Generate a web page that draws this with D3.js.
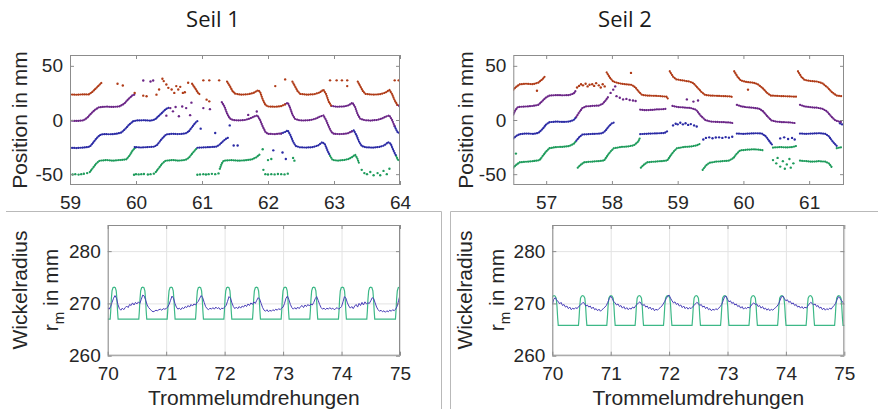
<!DOCTYPE html>
<html>
<head>
<meta charset="utf-8">
<script src="https://cdn.jsdelivr.net/npm/d3@7"></script>
<style>
  body { margin: 0; background: #fff; }
  svg { display: block; }
</style>
</head>
<body>
<svg id="chart" width="878" height="409"></svg>
<script>
// ---------- titles / labels ----------
const panelTitles = ["Seil 1", "Seil 2"];
const topYLabel = "Position in mm";
const bottomXLabel = "Trommelumdrehungen";

// ---------- top panels: ticks ----------
const seil1PosTicks = [59, 60, 61, 62, 63, 64];
const seil2PosTicks = [57, 58, 59, 60, 61];
const posYTicks = [-50, 0, 50];

// ---------- Seil 1, position tracks (segments of [rev, mm]) ----------
const s1Red = [
  [[59.0,23.6],[59.1,23.3],[59.2,23.7],[59.28,23.5],[59.33,25.5],[59.38,28.5],[59.43,31.5],[59.48,34.5]],
  [[60.85,33.5],[60.9,29],[60.94,25],[60.97,23.5]],
  [[61.38,35.5],[61.42,31.5],[61.46,27],[61.5,24.3],[61.6,23.4],[61.7,23.8],[61.78,25],[61.85,27.5],[61.88,26],[61.92,19],[61.96,14],[62.0,12.5],[62.1,12.2],[62.2,12.8],[62.26,14.5]],
  [[62.37,35.5],[62.41,31],[62.45,26.5],[62.49,24],[62.6,23.4],[62.7,23.8],[62.78,25.3],[62.84,28],[62.88,24],[62.92,17],[62.96,13]],
  [[63.36,35.5],[63.4,31],[63.44,26.5],[63.48,24],[63.6,23.4],[63.7,23.8],[63.78,25.3],[63.84,27.8],[63.88,24],[63.92,18],[63.96,14]]
];
const s1RedDots = [[59.72,33.4],[59.8,31.9],[59.98,25],[60.11,22.5],[60.16,21.9],[60.31,23.4],[60.35,28.1],[60.4,38.1],[60.42,35.9],[60.46,32.8],[60.49,29.7],[60.54,28.1],[60.58,25],[60.61,31.3],[60.64,28.1],[60.67,30.6],[60.71,25],[60.74,25.6],[60.79,34.4],[61.07,18.8],[61.11,17.2],[61.02,36.6],[61.11,36.6],[61.26,36.6],[62.11,31.3],[62.26,37.5],[62.94,36.6],[63.04,36.6],[63.12,36.6],[63.2,36.6],[63.2,31.3],[63.92,36.6],[63.98,36.6]];

const s1Purple = [
  [[59.0,-0.6],[59.1,-0.9],[59.2,-0.4],[59.26,2],[59.32,6],[59.38,9.5],[59.44,11.8],[59.55,12.3],[59.65,12],[59.75,12.6],[59.82,15],[59.88,19],[59.94,22.5],[59.98,23.5]],
  [[61.3,16.5],[61.34,12.5],[61.38,6],[61.42,1.5],[61.47,0],[61.55,-0.4],[61.65,0],[61.72,1.2],[61.8,3.5],[61.84,4.2],[61.88,0],[61.92,-6],[61.96,-11],[62.0,-12.8],[62.1,-13],[62.2,-12.5]],
  [[62.26,14.5],[62.3,16],[62.33,12],[62.37,5],[62.41,1],[62.47,-0.2],[62.55,-0.5],[62.65,0],[62.72,1.2],[62.8,3.5],[62.84,4.2],[62.88,0],[62.92,-6],[62.96,-11],[63.0,-12.8],[63.1,-13],[63.2,-12.5],[63.27,-10.5]],
  [[62.96,13],[63.05,12.2],[63.15,12.5],[63.22,13.5],[63.28,16],[63.32,12],[63.36,5],[63.4,1],[63.47,-0.2],[63.55,-0.5],[63.65,0],[63.72,1.2],[63.8,3.5],[63.84,4.2],[63.88,0],[63.92,-6]],
  [[63.96,14],[64.0,12.5]]
];
const s1PurpleDots = [[60.11,36.5],[60.22,35.5],[60.26,36.5],[60.46,4],[60.52,11],[60.56,8],[60.6,12],[60.65,3.5],[60.7,12.5],[60.76,11],[60.82,4.5],[60.84,16],[61.02,11],[61.12,10],[61.7,4.7],[61.83,7.8]];

const s1Blue = [
  [[59.0,-25.6],[59.1,-25.9],[59.2,-25.4],[59.3,-24.6],[59.35,-21],[59.4,-17],[59.45,-14],[59.5,-13],[59.6,-13.2],[59.7,-12.8],[59.78,-11.5],[59.84,-8],[59.9,-4],[59.96,-1],[60.02,-0.4],[60.12,-0.2],[60.22,-0.6],[60.29,0.5],[60.34,3.5],[60.4,7],[60.45,10],[60.5,11.5]],
  [[59.98,-25],[60.08,-25.4],[60.18,-25],[60.27,-24.7],[60.32,-23],[60.37,-19],[60.42,-15.5],[60.46,-13.2],[60.55,-12.8],[60.65,-13],[60.75,-12.4],[60.8,-10.5],[60.85,-6.5],[60.9,-2.5],[60.95,0]],
  [[60.93,-25.6],[61.03,-25.3],[61.13,-25],[61.22,-24.6],[61.27,-22.5],[61.32,-19.5],[61.37,-17],[61.41,-16]],
  [[62.2,-12.5],[62.26,-11],[62.3,-9.5],[62.34,-14],[62.38,-20],[62.42,-24],[62.48,-25.2],[62.58,-25.5],[62.68,-25],[62.76,-23.5],[62.82,-20.5],[62.86,-22],[62.9,-28],[62.94,-33]],
  [[63.27,-10.5],[63.3,-9.5],[63.34,-14],[63.38,-20],[63.42,-24],[63.48,-25.2],[63.58,-25.5],[63.68,-25],[63.76,-23.5],[63.82,-20.5],[63.86,-22],[63.9,-28],[63.94,-33]],
  [[63.92,-6],[63.96,-11],[64.0,-12.5]]
];
const s1BlueDots = [[60.98,-8],[61.42,-5],[61.48,-23.5],[61.54,-23.5],[62.08,-28],[62.22,-30],[62.27,-36],[61.2,-12]];

const s1Green = [
  [[59.3,-48],[59.35,-44],[59.4,-40],[59.45,-37.5],[59.55,-37],[59.65,-37.6],[59.75,-37],[59.85,-36.5],[59.9,-33],[59.95,-28],[59.99,-25.5]],
  [[60.3,-48],[60.35,-44],[60.4,-40],[60.45,-37.5],[60.55,-37],[60.65,-37.5],[60.75,-36.8],[60.8,-35],[60.85,-31],[60.9,-27.5],[60.93,-25.6]],
  [[61.27,-45],[61.3,-40],[61.33,-37.5],[61.45,-37],[61.55,-37.6],[61.65,-37.2],[61.75,-36.5],[61.82,-34.5],[61.88,-31.5]],
  [[62.94,-33],[62.98,-37],[63.05,-37.5],[63.15,-37],[63.22,-36],[63.28,-34],[63.32,-32],[63.35,-35],[63.38,-40]],
  [[63.94,-33],[63.97,-37],[64.0,-37.5]]
];
const s1GreenDots = [[59.0,-50],[59.04,-50.3],[59.08,-50],[59.13,-50.4],[59.17,-50],[59.21,-49.6],[59.26,-49],
  [59.97,-50.5],[60.0,-50],[60.04,-50.2],[60.08,-50],[60.12,-49.8],[60.18,-50.3],[60.22,-50],[60.27,-49.5],
  [60.93,-50.5],[60.97,-50.2],[61.02,-50],[61.06,-50.3],[61.1,-50],[61.15,-49.7],[61.2,-50],[61.25,-49.3],
  [61.93,-46],[61.96,-50],[62.0,-50.3],[62.05,-50],[62.1,-50.2],[62.15,-49.8],[62.2,-50],[62.25,-50.2],[62.3,-49.5],
  [61.92,-27],[62.0,-37],[62.05,-36],[62.4,-37.5],[62.38,-35],
  [63.42,-46],[63.46,-49],[63.5,-50],[63.55,-48],[63.6,-51],[63.66,-49],[63.7,-51],[63.75,-47],[63.8,-50],[63.84,-45]];

// ---------- Seil 2, position tracks ----------
const s2Red = [
  [[56.5,28],[56.55,31],[56.6,33],[56.7,33.5],[56.8,33],[56.88,34.5],[56.95,38],[56.99,41]],
  [[57.92,44],[57.97,39],[58.02,35.5],[58.1,34],[58.2,33],[58.3,32.5],[58.36,30],[58.41,26],[58.46,23],[58.55,22.5],[58.65,22.3],[58.75,22],[58.83,21.5],[58.86,19]],
  [[58.88,45],[58.93,40],[58.98,37.5],[59.08,36.5],[59.18,35.5],[59.24,34],[59.3,30],[59.36,26],[59.42,23],[59.5,22.5],[59.6,22.3],[59.7,22],[59.8,21.8],[59.85,21]],
  [[59.86,45],[59.91,40],[59.96,36.5],[60.05,35],[60.15,34.5],[60.22,33],[60.3,29],[60.36,25],[60.42,22.5],[60.5,22.3],[60.6,22],[60.7,21.8],[60.8,21.5]],
  [[60.83,45],[60.88,40],[60.93,37],[61.02,36],[61.12,35.5],[61.2,34],[61.28,30],[61.35,25.5],[61.42,22.5],[61.5,22]]
];
const s2RedDots = [[56.86,27],[57.47,30],[57.5,31.5],[57.53,33],[57.56,32],[57.6,33.5],[57.63,31],[57.66,32.5],[57.7,33],[57.73,31.5],[57.76,34],[57.8,32],[57.83,30],[57.86,33],[57.89,31],[58.29,43.5],[60.07,28]];

const s2Purple = [
  [[56.5,5],[56.53,9],[56.57,12],[56.7,12.5],[56.8,13],[56.88,14],[56.95,18],[57.0,21],[57.05,22.5],[57.15,23],[57.25,22.8],[57.35,23],[57.42,24.5],[57.46,28]],
  [[57.46,3],[57.5,7],[57.55,11],[57.6,12.5],[57.7,13],[57.8,13.3],[57.86,15],[57.91,18.5],[57.95,22]],
  [[58.43,9.5],[58.5,9],[58.6,9.3],[58.7,9.8],[58.78,10],[58.84,10.5]],
  [[58.92,13],[59.0,12],[59.1,11.5],[59.2,11],[59.28,9.5],[59.35,4],[59.42,0],[59.5,-1.5],[59.6,-1.8],[59.7,-2],[59.8,-2.4],[59.85,-3]],
  [[59.9,14],[59.97,12.5],[60.05,11.8],[60.15,11.3],[60.24,10.5],[60.3,8],[60.37,3],[60.43,-0.5],[60.5,-1.5],[60.6,-2],[60.7,-2.2],[60.78,-2.8]],
  [[60.86,14],[60.93,12.5],[61.02,11.8],[61.12,11.3],[61.2,10.5],[61.27,8],[61.34,3],[61.4,-0.5],[61.46,-1.5],[61.5,-2]]
];
const s2PurpleDots = [[57.98,25],[58.02,28],[58.05,31],[58.07,22],[58.12,20.5],[58.17,19],[58.22,19.5],[58.27,18.5],[58.32,18],[58.36,17.5],[59.14,19],[59.24,17],[59.31,18]];

const s2Blue = [
  [[56.5,-17],[56.55,-14.5],[56.6,-13],[56.7,-12.5],[56.8,-12.8],[56.88,-12],[56.95,-8],[57.0,-4],[57.05,-2],[57.15,-1.5],[57.25,-1.8],[57.35,-1.5],[57.42,0],[57.46,3]],
  [[57.46,-19],[57.5,-16],[57.55,-13.5],[57.65,-13],[57.75,-12.8],[57.85,-12.3],[57.9,-10],[57.95,-6],[58.0,-3],[58.05,-2]],
  [[58.43,-13],[58.5,-12.8],[58.6,-12.5],[58.7,-12.3],[58.8,-12],[58.85,-10]],
  [[59.9,-12.5],[60.0,-12.8],[60.1,-12.5],[60.2,-12.2],[60.28,-12.5],[60.34,-15],[60.4,-20],[60.45,-24]],
  [[60.86,-12.5],[60.95,-12.8],[61.05,-12.5],[61.15,-12.2],[61.25,-12.8],[61.3,-15],[61.36,-20],[61.42,-24]]
];
const s2BlueDots = [[58.93,-5],[58.97,-3.5],[59.0,-4],[59.04,-2.5],[59.08,-4],[59.12,-3],[59.16,-4.5],[59.2,-3.8],[59.25,-5],[59.29,-6],
  [59.39,-18],[59.43,-16.5],[59.48,-16],[59.53,-16.8],[59.58,-16.2],[59.63,-16],[59.68,-16.5],[59.73,-15.8],[59.78,-16.3],[59.83,-15.5],
  [60.56,-17],[60.62,-16],[60.68,-17.5],[60.74,-16.5],[60.78,-18],[61.47,-3],[61.5,-4]];

const s2Green = [
  [[56.5,-44],[56.55,-41],[56.6,-39],[56.7,-38.5],[56.8,-38],[56.9,-37],[56.95,-33],[57.0,-29],[57.05,-26],[57.15,-25],[57.25,-24.8],[57.35,-24],[57.42,-22],[57.46,-19]],
  [[57.48,-44],[57.53,-41],[57.58,-39],[57.68,-38.5],[57.78,-38],[57.88,-37.5],[57.93,-33],[57.98,-29],[58.03,-26],[58.13,-25],[58.23,-24.5],[58.33,-23.5],[58.4,-20],[58.43,-16]],
  [[58.44,-44],[58.49,-41],[58.54,-39],[58.64,-38.5],[58.74,-38],[58.84,-37.5],[58.89,-33],[58.94,-29],[58.99,-26],[59.09,-25],[59.19,-24.5],[59.29,-23.5],[59.34,-22]],
  [[59.38,-46],[59.43,-42],[59.48,-39.5],[59.58,-38.5],[59.68,-38],[59.78,-37.5],[59.85,-35],[59.9,-31],[59.95,-28],[60.05,-27.5],[60.15,-27],[60.25,-27.5],[60.3,-28]],
  [[60.45,-25.5],[60.55,-25],[60.65,-25.3],[60.75,-25],[60.8,-24]],
  [[60.86,-37.5],[60.95,-38],[61.05,-38.5],[61.15,-38],[61.25,-38.5],[61.3,-40],[61.35,-44]],
  [[61.42,-26],[61.5,-25]]
];
const s2GreenDots = [[56.54,-31],[60.45,-37],[60.5,-40],[60.52,-35],[60.56,-43],[60.6,-38],[60.63,-45],[60.66,-41],[60.7,-36],[60.72,-44],[60.76,-40]];

// ---------- bottom panels: winding radius ----------
const radiusXTicks = [70, 71, 72, 73, 74, 75];
const radiusYTicks = [260, 270, 280];
const radiusRevStart = 70;
const radiusRevStep = 0.025;

const s1RadiusMeasured = [
  269.1,268.9,269.4,270.2,271.0,271.5,271.0,269.8,269.0,268.7,
  269.1,268.8,269.2,269.5,269.2,269.8,269.6,270.1,269.7,270.2,
  269.9,270.3,270.0,270.8,271.6,271.4,270.6,269.7,269.2,268.9,
  268.6,268.4,268.5,268.7,268.6,268.8,268.9,268.7,269.0,268.9,
  269.0,269.3,269.8,270.6,271.4,271.0,270.0,269.3,268.9,269.1,
  268.8,269.2,269.0,269.4,269.2,269.6,269.3,269.8,269.5,269.9,
  269.7,270.1,270.4,271.0,271.5,271.1,270.2,269.4,269.0,268.8,
  269.1,268.9,269.2,268.9,269.3,269.0,269.2,268.8,269.1,269.0,
  269.3,269.6,270.4,271.3,271.0,270.1,269.4,269.0,269.3,269.0,
  269.4,269.1,269.5,269.3,269.7,269.4,269.9,269.6,270.1,269.8,
  270.3,270.0,270.6,271.1,270.8,270.0,269.2,268.7,268.5,268.8,
  268.4,268.7,268.5,268.8,268.6,268.9,268.7,269.0,268.8,269.1,
  269.3,270.0,271.0,271.4,270.7,269.8,269.2,268.9,269.2,268.9,
  269.3,269.0,269.4,269.6,269.2,269.7,269.4,269.8,269.5,269.9,
  269.7,270.2,270.9,271.3,270.6,269.8,269.2,268.9,269.1,268.8,
  269.1,268.9,269.2,268.9,269.1,268.8,269.0,269.2,268.9,269.1,
  269.4,270.3,271.3,271.0,270.1,269.5,269.1,269.4,269.0,269.5,
  269.8,269.3,270.0,269.6,270.2,269.7,270.3,269.9,270.1,270.0,
  270.5,271.1,270.9,270.1,269.3,268.8,268.5,268.7,268.4,268.6,
  268.3,268.6,268.4,268.7,268.5,268.8,268.6,268.9,269.4,270.5,
  271.6
];
const s2RadiusMeasured = [
  269.8,270.8,271.1,270.6,270.4,269.9,270.2,269.6,269.8,269.3,
  269.5,269.0,269.3,268.8,269.1,268.9,269.2,269.0,269.4,269.6,
  269.9,270.2,270.0,269.5,269.7,269.3,269.5,269.0,269.3,268.8,
  269.0,268.6,268.9,268.5,268.8,269.0,269.3,269.6,270.2,270.9,
  271.4,271.0,270.4,270.1,269.7,269.9,269.4,269.6,269.1,269.4,
  268.9,269.2,268.8,269.1,268.9,269.3,269.1,269.5,269.8,270.1,
  270.3,269.9,269.6,269.8,269.3,269.5,269.0,269.3,268.8,269.1,
  268.6,268.9,268.7,269.0,269.2,269.5,269.9,270.4,270.9,271.4,
  271.6,271.0,270.5,270.1,270.3,269.8,270.0,269.5,269.7,269.2,
  269.5,269.0,269.3,268.9,269.2,269.0,269.3,269.6,269.9,270.2,
  270.0,269.6,269.8,269.3,269.5,269.0,269.3,268.8,269.0,268.6,
  268.9,268.7,269.0,268.8,269.1,269.4,269.8,270.5,271.3,271.4,
  270.8,270.3,270.5,270.0,270.2,269.7,269.9,269.4,269.6,269.1,
  269.4,268.9,269.2,269.0,269.3,269.1,269.5,269.9,270.1,269.8,
  269.9,269.4,269.6,269.1,269.4,268.9,269.1,268.7,269.0,268.6,
  268.9,268.7,269.0,269.2,269.5,269.9,270.6,271.3,271.4,270.9,
  270.5,270.7,270.2,270.4,269.9,270.1,269.6,269.8,269.3,269.5,
  269.1,269.4,269.0,269.3,269.1,269.5,269.9,270.2,270.0,269.7,
  269.9,269.4,269.6,269.1,269.3,268.8,269.1,268.7,269.0,268.8,
  269.1,268.9,269.3,269.6,270.0,270.7,271.3,271.0,270.6,270.2,
  269.8
];

// model radius: flat base with a peak at each crossover
const s1ModelBase = 267;
const s1PeakCenters = [70.11, 70.6, 71.085, 71.57, 72.055, 72.545, 73.035, 73.525, 74.015, 74.5, 74.99];
const s1PeakShape = [[-0.068,267],[-0.058,268.6],[-0.048,270.8],[-0.036,272.4],[-0.02,273],[0,273.1],[0.02,273],[0.036,272.4],[0.048,270.8],[0.058,268.6],[0.068,267]];
const s2ModelBase = 265.8;
const s2PeakCenters = [70.03, 70.52, 71.005, 71.49, 71.976, 72.465, 72.953, 73.44, 73.93, 74.418, 74.906];
const s2PeakShape = [[-0.072,265.8],[-0.062,267.2],[-0.05,269.5],[-0.037,271],[-0.019,271.4],[0,271.5],[0.019,271.4],[0.037,271],[0.05,269.5],[0.062,267.2],[0.072,265.8]];

// ---------- drawing ----------
const svg = d3.select("#chart");
const tickFont = "'Liberation Sans', Arial, sans-serif";
const colors = { red: "#b03c18", purple: "#6b2687", blue: "#2b2ba5", green: "#1f9c5c" };
const modelColor = "#3db887";
const measColor = "#4a3fb8";
const boxColor = "#8c8c8c";

// subfigure frames
svg.append("path")
  .attr("d", "M6,211.5H441.5V409 M450.5,409V211.5H878")
  .attr("fill", "none").attr("stroke", "#b9b9b9").attr("stroke-width", 1);

// titles
svg.selectAll("text.title")
  .data(panelTitles)
  .join("text")
  .attr("class", "title")
  .attr("x", (d, i) => i === 0 ? 213 : 625)
  .attr("y", 27)
  .attr("text-anchor", "middle")
  .attr("font-family", "'Open Sans', 'Noto Sans', sans-serif")
  .attr("font-size", 22)
  .attr("fill", "#1a1a1a")
  .text(d => d);

function makeAxes(box, xDomain, yDomain, xTicks, yTicks, withGrid) {
  const x = d3.scaleLinear().domain(xDomain).range([box.left, box.right]);
  const y = d3.scaleLinear().domain(yDomain).range([box.bottom, box.top]);
  const w = box.right - box.left, h = box.bottom - box.top;
  const g = svg.append("g");

  if (withGrid) {
    g.append("g")
      .attr("transform", `translate(0,${box.bottom})`)
      .call(d3.axisBottom(x).tickValues(xTicks).tickSize(-h).tickFormat(""))
      .call(a => a.select(".domain").remove())
      .call(a => a.selectAll("line").attr("stroke", "#e3e3e3"));
    g.append("g")
      .attr("transform", `translate(${box.left},0)`)
      .call(d3.axisLeft(y).tickValues(yTicks).tickSize(-w).tickFormat(""))
      .call(a => a.select(".domain").remove())
      .call(a => a.selectAll("line").attr("stroke", "#e3e3e3"));
  }

  const clipId = "clip" + Math.round(box.left);
  svg.append("clipPath").attr("id", clipId)
    .append("rect").attr("x", box.left).attr("y", box.top).attr("width", w).attr("height", h);
  const plot = svg.append("g").attr("clip-path", `url(#${clipId})`);

  const axes = svg.append("g");
  const styleAxis = a => {
    a.select(".domain").remove();
    a.selectAll("line").attr("stroke", boxColor);
    a.selectAll("text").attr("fill", "#262626").attr("font-family", tickFont).attr("font-size", 19);
  };
  axes.append("g").attr("transform", `translate(0,${box.bottom})`)
    .call(d3.axisBottom(x).tickValues(xTicks).tickSize(-4).tickPadding(11).tickFormat(d => String(d)))
    .call(styleAxis);
  axes.append("g").attr("transform", `translate(0,${box.top})`)
    .call(d3.axisTop(x).tickValues(xTicks).tickSize(-4).tickFormat(""))
    .call(styleAxis);
  axes.append("g").attr("transform", `translate(${box.left},0)`)
    .call(d3.axisLeft(y).tickValues(yTicks).tickSize(-4).tickPadding(7).tickFormat(d => String(d)))
    .call(styleAxis);
  axes.append("g").attr("transform", `translate(${box.right},0)`)
    .call(d3.axisRight(y).tickValues(yTicks).tickSize(-4).tickFormat(""))
    .call(styleAxis);
  axes.append("rect")
    .attr("x", box.left + 0.5).attr("y", box.top + 0.5)
    .attr("width", w - 1).attr("height", h - 1)
    .attr("fill", "none").attr("stroke", boxColor).attr("stroke-width", 1);

  return { x, y, plot };
}

function drawTracks(ax, segs, dots, color) {
  const line = d3.line().x(d => ax.x(d[0])).y(d => ax.y(d[1]));
  ax.plot.append("g")
    .selectAll("path")
    .data(segs)
    .join("path")
    .attr("d", line)
    .attr("fill", "none")
    .attr("stroke", color)
    .attr("stroke-width", 2.2)
    .attr("stroke-linecap", "round")
    .attr("stroke-dasharray", "0.1 2.0");
  ax.plot.append("g")
    .selectAll("circle")
    .data(dots)
    .join("circle")
    .attr("cx", d => ax.x(d[0]))
    .attr("cy", d => ax.y(d[1]))
    .attr("r", 1.2)
    .attr("fill", color);
}

function modelPoints(centers, shape, base) {
  const pts = [[radiusRevStart, base]];
  centers.forEach(c => shape.forEach(s => pts.push([c + s[0], s[1]])));
  pts.push([75.2, base]);
  return pts;
}

function drawRadius(ax, measured, centers, shape, base) {
  const line = d3.line().x(d => ax.x(d[0])).y(d => ax.y(d[1]));
  ax.plot.append("path")
    .attr("d", line(modelPoints(centers, shape, base)))
    .attr("fill", "none").attr("stroke", modelColor).attr("stroke-width", 1.2);
  const meas = measured.map((v, i) => [radiusRevStart + i * radiusRevStep, v]);
  ax.plot.append("path")
    .attr("d", line(meas))
    .attr("fill", "none").attr("stroke", measColor).attr("stroke-width", 1);
}

function rotatedLabel(x, y, lines) {
  const t = svg.append("text")
    .attr("transform", `translate(${x},${y}) rotate(-90)`)
    .attr("text-anchor", "middle")
    .attr("font-family", tickFont)
    .attr("font-size", 21)
    .attr("fill", "#262626");
  lines(t);
}

// --- Seil 1 top
const a1 = makeAxes({ left: 70, right: 400, top: 55, bottom: 185 }, [59, 64], [-60, 60], seil1PosTicks, posYTicks, false);
drawTracks(a1, s1Green, s1GreenDots, colors.green);
drawTracks(a1, s1Blue, s1BlueDots, colors.blue);
drawTracks(a1, s1Purple, s1PurpleDots, colors.purple);
drawTracks(a1, s1Red, s1RedDots, colors.red);

// --- Seil 2 top
const a2 = makeAxes({ left: 513.3, right: 844, top: 55, bottom: 185 }, [56.5, 61.53], [-60, 60], seil2PosTicks, posYTicks, false);
drawTracks(a2, s2Green, s2GreenDots, colors.green);
drawTracks(a2, s2Blue, s2BlueDots, colors.blue);
drawTracks(a2, s2Purple, s2PurpleDots, colors.purple);
drawTracks(a2, s2Red, s2RedDots, colors.red);

// --- bottom panels
const a3 = makeAxes({ left: 107.7, right: 400, top: 225, bottom: 355.7 }, [70, 75], [260, 285], radiusXTicks, radiusYTicks, true);
drawRadius(a3, s1RadiusMeasured, s1PeakCenters, s1PeakShape, s1ModelBase);
const a4 = makeAxes({ left: 552.3, right: 844.3, top: 225, bottom: 355.7 }, [70, 75], [260, 285], radiusXTicks, radiusYTicks, true);
drawRadius(a4, s2RadiusMeasured, s2PeakCenters, s2PeakShape, s2ModelBase);

// axis labels
rotatedLabel(27, 120, t => t.text(topYLabel));
rotatedLabel(473, 120, t => t.text(topYLabel));
[[27, 58, 290], [472, 504, 290]].forEach(([x1, x2, yc]) => {
  rotatedLabel(x1, yc, t => t.text("Wickelradius"));
  rotatedLabel(x2, yc, t => {
    t.append("tspan").text("r");
    t.append("tspan").attr("font-size", 15).attr("dy", 6).text("m");
    t.append("tspan").attr("dy", -6).text(" in mm");
  });
});
[253.8, 698.3].forEach(cx => {
  svg.append("text")
    .attr("x", cx).attr("y", 405)
    .attr("text-anchor", "middle")
    .attr("font-family", tickFont)
    .attr("font-size", 21)
    .attr("fill", "#262626")
    .text(bottomXLabel);
});
</script>
</body>
</html>
